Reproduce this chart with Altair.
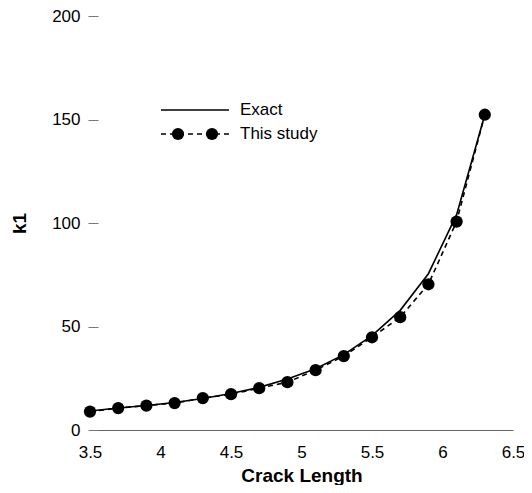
import altair as alt
import pandas as pd

crack_length = [3.5, 3.7, 3.9, 4.1, 4.3, 4.5, 4.7, 4.9, 5.1, 5.3, 5.5, 5.7, 5.9, 6.1, 6.3]
k1_exact = [9.2, 10.6, 11.8, 13.3, 15.2, 17.6, 20.6, 24.6, 29.6, 36.4, 45.6, 57.8, 75.5, 104.0, 152.3]
k1_study = [8.9, 10.6, 11.8, 13.0, 15.4, 17.3, 20.2, 23.1, 28.9, 35.7, 44.8, 54.5, 70.4, 100.7, 152.3]
x_ticks = [3.5, 4, 4.5, 5, 5.5, 6, 6.5]
y_ticks = [0, 50, 100, 150, 200]
legend_labels = ["Exact", "This study"]

FONT = "Liberation Sans"

df = pd.DataFrame({"x": crack_length, "exact": k1_exact, "study": k1_study})

x_scale = alt.Scale(domain=[3.5, 6.5], nice=False, zero=False)
y_scale = alt.Scale(domain=[0, 200], nice=False)

x_axis = alt.Axis(values=x_ticks, format="~g", grid=False, ticks=False,
                  domain=True, domainColor="#666666", domainWidth=1,
                  labelFontSize=17, labelFont=FONT, labelColor="black",
                  labelPadding=14, labelFlush=False,
                  titleFont=FONT, titleFontSize=19, titleFontWeight="bold",
                  titleColor="black", titlePadding=6)
y_axis = alt.Axis(values=y_ticks, grid=False, domain=False,
                  ticks=True, tickSize=10, tickColor="#777777", tickWidth=1, offset=-8,
                  labelFontSize=17, labelFont=FONT, labelColor="black",
                  labelPadding=8,
                  titleFont=FONT, titleFontSize=19, titleFontWeight="bold",
                  titleColor="black", titlePadding=22)

def xe():
    return alt.X("x:Q", scale=x_scale, title="Crack Length", axis=x_axis)

def ye(field):
    return alt.Y(field, scale=y_scale, title="k1", axis=y_axis)

exact_line = alt.Chart(df).mark_line(color="black", strokeWidth=1.6).encode(
    x=xe(), y=ye("exact:Q"))

study_line = alt.Chart(df).mark_line(color="black", strokeWidth=1.6, strokeDash=[5, 4]).encode(
    x=xe(), y=ye("study:Q"))

study_pts = alt.Chart(df).mark_point(filled=True, color="black", opacity=1, size=150, shape="circle").encode(
    x=xe(), y=ye("study:Q"))

one = pd.DataFrame({"a": [0]})
leg_solid = alt.Chart(one).mark_rule(color="black", strokeWidth=1.6).encode(
    x=alt.value(71), x2=alt.value(139), y=alt.value(94))
leg_dash = alt.Chart(one).mark_rule(color="black", strokeWidth=1.6, strokeDash=[5, 4]).encode(
    x=alt.value(71), x2=alt.value(139), y=alt.value(118))
leg_dot1 = alt.Chart(one).mark_point(filled=True, color="black", opacity=1, size=150, shape="circle").encode(
    x=alt.value(88), y=alt.value(118))
leg_dot2 = alt.Chart(one).mark_point(filled=True, color="black", opacity=1, size=150, shape="circle").encode(
    x=alt.value(122), y=alt.value(118))
leg_text1 = alt.Chart(one).mark_text(align="left", baseline="middle", font=FONT, fontSize=17, color="black").encode(
    x=alt.value(150), y=alt.value(94), text=alt.value(legend_labels[0]))
leg_text2 = alt.Chart(one).mark_text(align="left", baseline="middle", font=FONT, fontSize=17, color="black").encode(
    x=alt.value(150), y=alt.value(118), text=alt.value(legend_labels[1]))

chart = alt.layer(exact_line, study_line, study_pts, leg_solid, leg_dash, leg_dot1, leg_dot2,
                  leg_text1, leg_text2).properties(
    width=423, height=414,
    background="white",
    autosize=alt.AutoSizeParams(type="none"),
    padding={"left": 82, "top": 8, "right": 11, "bottom": 55},
).configure_view(strokeWidth=0, stroke="transparent")

chart.save("out.html", embed_options={"renderer": "svg", "actions": False})
